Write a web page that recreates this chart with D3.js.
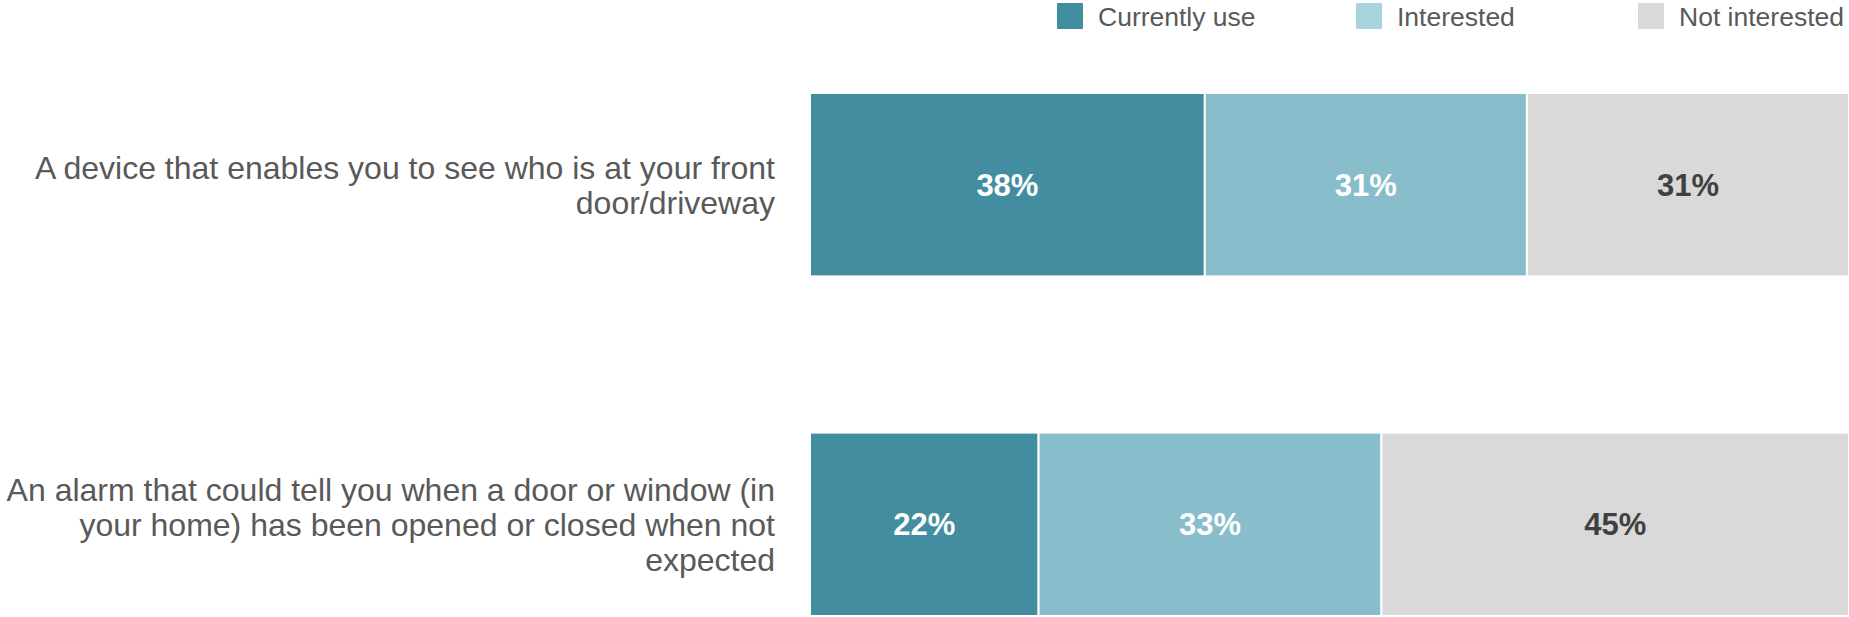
<!DOCTYPE html>
<html>
<head>
<meta charset="utf-8">
<script src="https://cdn.jsdelivr.net/npm/d3@7"></script>
<style>
  body { margin: 0; background: #fff; }
  text { font-family: "Liberation Sans", Arial, sans-serif; }
</style>
</head>
<body>
<div id="output"></div>
<script>
const width = 1849;
const height = 617;

// data
const categories = [
    ['A device that enables you to see who is at your front', 'door/driveway'],
    ['An alarm that could tell you when a door or window (in', 'your home) has been opened or closed when not', 'expected']
];
const seriesNames = ['Currently use', 'Interested', 'Not interested'];
const currentlyUse = [38, 22];
const interested = [31, 33];
const notInterested = [31, 45];

const barColors = ['#438da1', '#88bdcb', '#d9d9d9'];
const legendColors = ['#438da1', '#a9d3dd', '#d9d9d9'];
const valueColors = ['#ffffff', '#ffffff', '#404040'];

const margin = {top: 93, right: 0, bottom: 1, left: 810};

let svg = d3.select('#output').append('svg')
    .attr('width', width)
    .attr('height', height);

let x = d3.scaleLinear()
    .domain([0, 100])
    .range([margin.left, width - margin.right]);

let y = d3.scaleBand()
    .domain(d3.range(categories.length))
    .range([margin.top, height - margin.bottom])
    .paddingInner(0.46)
    .paddingOuter(0);

// build stacked rows
let rows = categories.map((c, i) => ({
    'Currently use': currentlyUse[i],
    'Interested': interested[i],
    'Not interested': notInterested[i],
    idx: i
}));
let stacked = d3.stack().keys(seriesNames)(rows);

let bars = svg.append('g').attr('id', 'bars');
stacked.forEach((layer, k) => {
    let g = bars.append('g').attr('fill', barColors[k]);
    g.selectAll('rect')
        .data(layer)
        .enter().append('rect')
        .attr('x', d => x(d[0]))
        .attr('y', (d, i) => y(i))
        .attr('width', d => x(d[1]) - x(d[0]))
        .attr('height', y.bandwidth())
        .attr('stroke', '#ffffff')
        .attr('stroke-width', 2);
    g.selectAll('text')
        .data(layer)
        .enter().append('text')
        .attr('x', d => (x(d[0]) + x(d[1])) / 2)
        .attr('y', (d, i) => y(i) + y.bandwidth() / 2)
        .attr('dy', '0.36em')
        .attr('text-anchor', 'middle')
        .attr('font-size', 31)
        .attr('font-weight', 'bold')
        .attr('fill', valueColors[k])
        .text(d => (d[1] - d[0]) + '%');
});

// category labels, right aligned next to the bars
const lineHeight = 35;
let labels = svg.append('g').attr('id', 'labels');
categories.forEach((lines, i) => {
    let cy = y(i) + y.bandwidth() / 2 - (lines.length - 1) * lineHeight / 2;
    let t = labels.append('text')
        .attr('text-anchor', 'end')
        .attr('font-size', 32)
        .attr('fill', '#595959');
    lines.forEach((line, j) => {
        t.append('tspan')
            .attr('x', margin.left - 35)
            .attr('y', cy + j * lineHeight)
            .attr('dy', '0.36em')
            .text(line);
    });
});

// legend
const legendX = [1057, 1356, 1638];
let legend = svg.append('g').attr('id', 'legend');
seriesNames.forEach((name, k) => {
    legend.append('rect')
        .attr('x', legendX[k])
        .attr('y', 3)
        .attr('width', 26)
        .attr('height', 26)
        .attr('fill', legendColors[k]);
    legend.append('text')
        .attr('x', legendX[k] + 41)
        .attr('y', 16)
        .attr('dy', '0.36em')
        .attr('font-size', 26.5)
        .attr('fill', '#595959')
        .text(name);
});
</script>
</body>
</html>
